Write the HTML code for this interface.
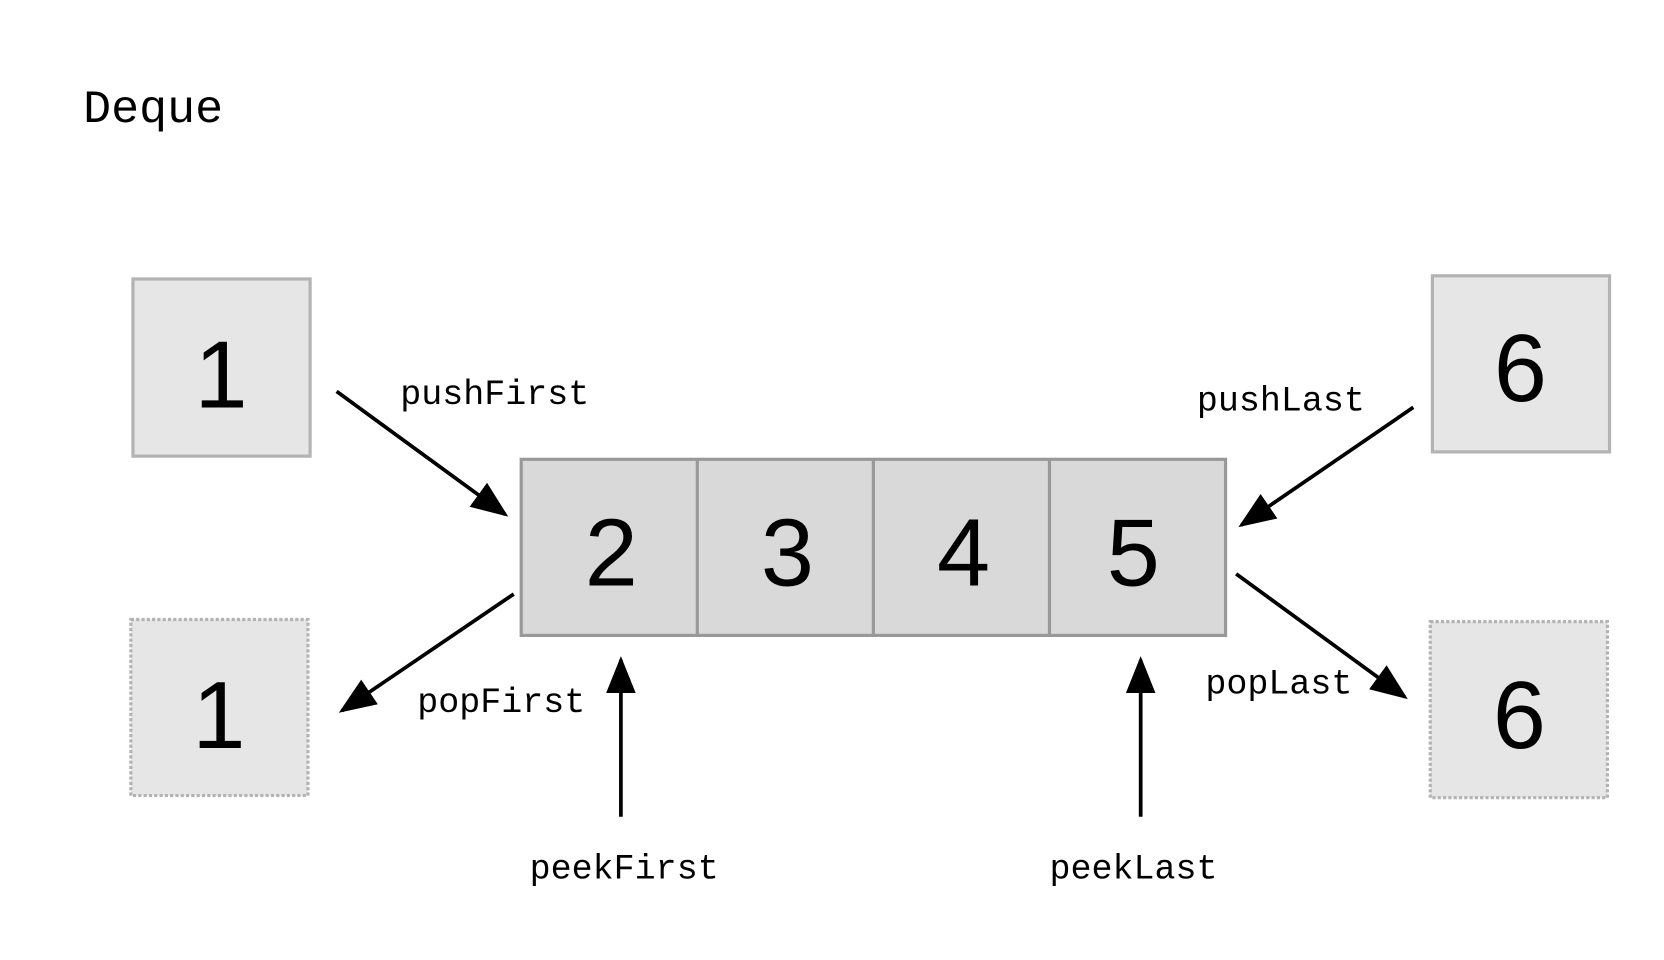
<!DOCTYPE html>
<html><head><meta charset="utf-8"><style>html,body{margin:0;padding:0;background:#fff;}svg{display:block}</style></head>
<body>
<svg width="1664" height="960" viewBox="0 0 1568 905" xmlns="http://www.w3.org/2000/svg">
<defs>
<marker id="ah" markerWidth="10" markerHeight="8" refX="9" refY="4" orient="auto" markerUnits="strokeWidth">
<path d="M0,0 L10,4 L0,8 Z" fill="#000"/>
</marker>
</defs>
<rect width="1568" height="905" fill="#fff"/>
<text x="78" y="115" font-family="Liberation Mono, monospace" font-size="44" fill="#000">Deque</text>

<rect x="125" y="263" width="167" height="167" fill="#e6e6e6" stroke="#b3b3b3" stroke-width="3"/>
<rect x="1350" y="260" width="167" height="166" fill="#e6e6e6" stroke="#b3b3b3" stroke-width="3"/>
<rect x="123" y="584" width="167" height="166" fill="#e6e6e6" stroke="#b3b3b3" stroke-width="3" stroke-dasharray="3,2"/>
<rect x="1348" y="586" width="167" height="166" fill="#e6e6e6" stroke="#b3b3b3" stroke-width="3" stroke-dasharray="3,2"/>

<rect x="491" y="433" width="664" height="166" fill="#d9d9d9" stroke="#999" stroke-width="3"/>
<line x1="657" y1="433" x2="657" y2="599" stroke="#999" stroke-width="3"/>
<line x1="823" y1="433" x2="823" y2="599" stroke="#999" stroke-width="3"/>
<line x1="989" y1="433" x2="989" y2="599" stroke="#999" stroke-width="3"/>

<g font-family="Liberation Sans, sans-serif" font-size="90" text-anchor="middle" fill="#000">
<text x="208" y="384">1</text>
<text x="1433" y="378">6</text>
<text x="206" y="705">1</text>
<text x="1432" y="705">6</text>
<text x="576" y="552">2</text>
<text x="742" y="552">3</text>
<text x="908" y="552">4</text>
<text x="1068" y="552">5</text>
</g>

<g stroke="#000" stroke-width="3.5" fill="none">
<line x1="317" y1="369" x2="476" y2="485" marker-end="url(#ah)"/>
<line x1="1332" y1="384" x2="1170" y2="495" marker-end="url(#ah)"/>
<line x1="484" y1="560" x2="322" y2="670" marker-end="url(#ah)"/>
<line x1="1165" y1="541" x2="1324" y2="657" marker-end="url(#ah)"/>
<line x1="585" y1="770" x2="585" y2="622" marker-end="url(#ah)"/>
<line x1="1075" y1="770" x2="1075" y2="622" marker-end="url(#ah)"/>
</g>

<g font-family="Liberation Mono, monospace" font-size="33" fill="#000">
<text x="377" y="381">pushFirst</text>
<text x="1128" y="387">pushLast</text>
<text x="393" y="671">popFirst</text>
<text x="1136" y="654">popLast</text>
<text x="499" y="828">peekFirst</text>
<text x="989" y="828">peekLast</text>
</g>
</svg>
</body></html>
